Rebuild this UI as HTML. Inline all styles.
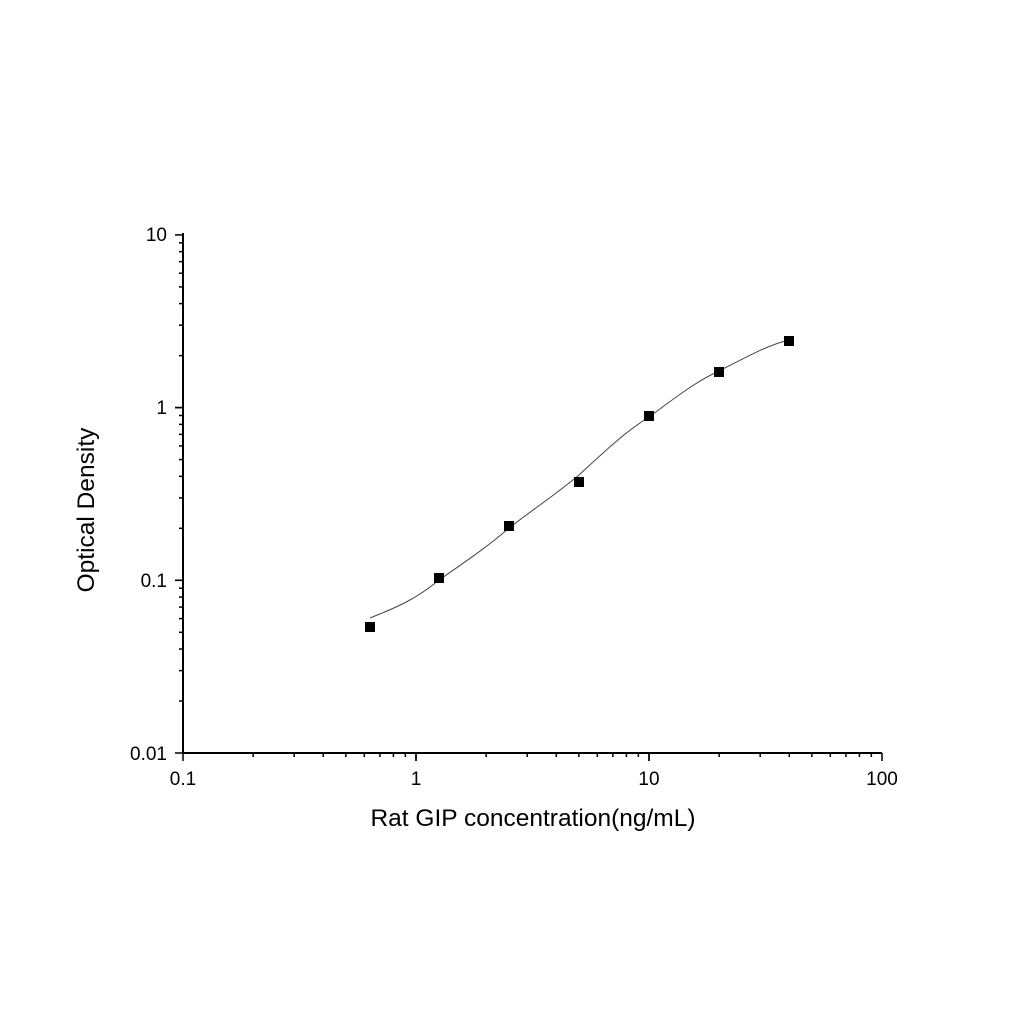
<!DOCTYPE html>
<html><head><meta charset="utf-8"><style>
html,body{margin:0;padding:0;background:#fff;width:1024px;height:1024px;overflow:hidden}
text{font-family:"Liberation Sans",Arial,sans-serif;fill:#000}
</style></head><body>
<svg id="s" width="1024" height="1024" xmlns="http://www.w3.org/2000/svg">
<line x1="183" y1="233" x2="183" y2="753" stroke="#000" stroke-width="2"/>
<line x1="182" y1="753" x2="882" y2="753" stroke="#000" stroke-width="2"/>
<g id="t" stroke="#000" stroke-width="1.5"></g>
<text x="167" y="241" font-size="19" text-anchor="end">10</text>
<text x="167" y="414" font-size="19" text-anchor="end">1</text>
<text x="167" y="587" font-size="19" text-anchor="end">0.1</text>
<text x="167" y="760" font-size="19" text-anchor="end">0.01</text>
<text x="183" y="785" font-size="19" text-anchor="middle">0.1</text>
<text x="416" y="785" font-size="19" text-anchor="middle">1</text>
<text x="649" y="785" font-size="19" text-anchor="middle">10</text>
<text x="882" y="785" font-size="19" text-anchor="middle">100</text>
<text x="533" y="826" font-size="24.5" text-anchor="middle">Rat GIP concentration(ng/mL)</text>
<text transform="translate(94,510) rotate(-90)" font-size="24.5" text-anchor="middle">Optical Density</text>
<path d="M370,618 C395,608 415,600 439,580 C465,562 490,545 509,528 C535,508 555,495 579,475 C605,451 625,432 649,417 C675,398 695,382 719,371 C745,358 765,346 789,340" fill="none" stroke="#444" stroke-width="1"/>
<g fill="#000">
<rect x="365" y="622" width="10" height="10"/>
<rect x="434" y="573" width="10" height="10"/>
<rect x="504" y="521" width="10" height="10"/>
<rect x="574" y="477" width="10" height="10"/>
<rect x="644" y="411" width="10" height="10"/>
<rect x="714" y="367" width="10" height="10"/>
<rect x="784" y="336" width="10" height="10"/>
</g>
</svg>
<script>
var g=document.getElementById('t'),h='';
for(var d=0;d<3;d++)for(var k=1;k<=10;k++){var x=183+233*(d+Math.log10(k));var L=(k==1||k==10)?8:4;h+='<line x1="'+x+'" y1="753" x2="'+x+'" y2="'+(753+L)+'"/>';}
for(var d=0;d<3;d++)for(var k=1;k<=10;k++){var y=753-172.7*(d+Math.log10(k));var L=(k==1||k==10)?8:4;h+='<line x1="183" y1="'+y+'" x2="'+(183-L)+'" y2="'+y+'"/>';}
g.innerHTML=h;
</script>
</body></html>
